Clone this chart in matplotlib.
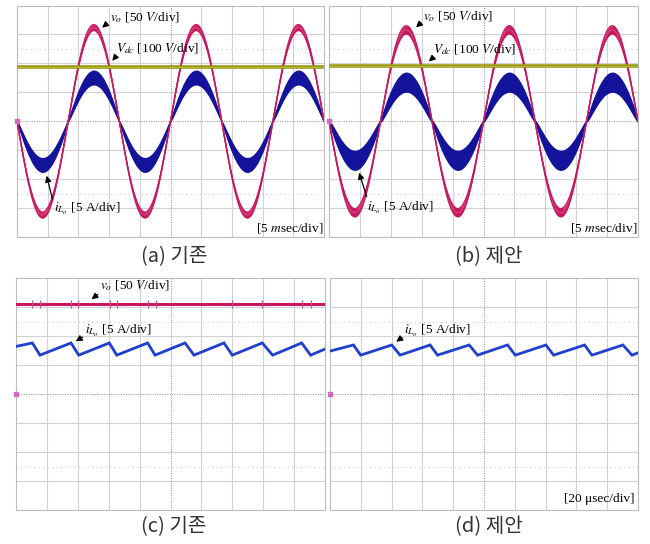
import numpy as np
import matplotlib.pyplot as plt

plt.rcParams['mathtext.fontset'] = 'stix'

# --- values read from the scope shots ---
# (a),(b): 5 ms/div, vo 50 V/div, Vdc 100 V/div, iLo 5 A/div
f_line = 60.0                     # Hz
vo_amp = [162.0, 158.0]           # V peak, (a) conventional, (b) proposed
vo_ripple = [5.0, 7.0]            # V half band at peak
io_amp = [7.55, 6.75]             # A peak
io_ripple = [1.3, 1.75]           # A half band at peak
vdc_level = [189.0, 190.0]        # V

# (c),(d): 20 us/div, zoom on the switching ripple
vo_dc_c = 155.0                   # V
spike_times_c = [10.6, 15.5, 35.6, 40.3, 60.8, 65.2, 85.6, 90.4,
                 140.0, 159.4, 184.9, 190.7]
saw_peak_t_c = [10.6, 35.6, 60.4, 85.2, 109.4, 134.6, 159.4, 184.9]
saw_trough_t_c = [15.5, 40.6, 65.2, 90.0, 115.2, 140.0, 166.1, 190.7]
saw_hi_c, saw_lo_c = 8.8, 6.7     # A
saw_start_c, saw_end_c = 8.2, 7.75

saw_peak_t_d = [15.2, 40.1, 65.0, 90.4, 115.3, 140.2, 165.3, 190.2]
saw_trough_t_d = [19.9, 45.5, 69.8, 95.8, 120.3, 145.2, 170.1, 196.1]
saw_hi_d, saw_lo_d = 8.45, 6.7
saw_start_d, saw_end_d = 7.4, 7.1

W, H = 650, 544
PINK = "#c8175e"
BLUE = "#13139c"
SAW = "#1f3fcf"
OLIVE = "#9a9a12"

fig = plt.figure(figsize=(W / 100, H / 100), dpi=100)


def fx(px, py):
    return (px / W, 1 - py / H)


def panel(l, t, r, b):
    ax = fig.add_axes([l / W, 1 - b / H, (r - l) / W, (b - t) / H])
    ax.set_xlim(0, 10)
    ax.set_ylim(-4, 4)
    ax.set_xticks([])
    ax.set_yticks([])
    for s in ax.spines.values():
        s.set_color("#bdbdbd")
        s.set_linewidth(0.8)
    for i in range(1, 10):
        if i != 5:
            ax.axvline(i, color="#d2d2d2", lw=0.8, zorder=0)
    for j in [-3, -2, -1, 1, 2, 3]:
        ax.axhline(j, color="#d2d2d2", lw=0.8, zorder=0)
    for j in [-2.5, 2.5]:
        ax.axhline(j, color="#cccccc", lw=0.8, ls=(0, (1, 3)), zorder=0)
    ax.axhline(0, color="#8c8c8c", lw=0.7, ls=(0, (1, 1.5)), zorder=0)
    ax.axvline(5, color="#8c8c8c", lw=0.7, ls=(0, (1, 1.5)), zorder=0)
    ax.plot([0], [0], marker="s", ms=2.5, color="#d06ac0", clip_on=False, zorder=5)
    return ax


def sine_panel(ax, k):
    t = np.linspace(0, 50, 3000)  # ms
    s = -np.sin(2 * np.pi * f_line * t / 1000)
    x = t / 5.0
    ic = io_amp[k] * s / 5.0
    ih = io_ripple[k] * np.abs(s) ** 0.45 / 5.0
    ax.fill_between(x, ic - ih, ic + ih, color=BLUE, lw=0, zorder=2)
    ax.plot(x, ic, color=BLUE, lw=1.0, zorder=2)
    vc = vo_amp[k] * s / 50.0
    vh = vo_ripple[k] * np.abs(s) ** 2 / 50.0
    ax.fill_between(x, vc - vh, vc + vh, color=PINK, lw=0, zorder=3)
    ax.plot(x, vc, color="#d0487e", lw=0.9, zorder=3)
    ax.plot(x, vc + vh, color=PINK, lw=1.0, zorder=3)
    ax.plot(x, vc - vh, color=PINK, lw=1.0, zorder=3)
    ax.axhline(vdc_level[k] / 100.0, color=OLIVE, lw=2.6, zorder=4)
    ax.axhline(vdc_level[k] / 100.0, color="#b4b43a", lw=0.8, zorder=4)


def saw(ax, peaks, troughs, hi, lo, start, end):
    tt = [0.0]
    vv = [start]
    for p, q in zip(peaks, troughs):
        tt += [p, q]
        vv += [hi, lo]
    tt.append(200.0)
    vv.append(end)
    ax.plot(np.array(tt) / 20.0, np.array(vv) / 5.0, color=SAW, lw=2.0,
            solid_joinstyle="miter", zorder=3)


ax_a = panel(17, 5.5, 324, 237)
sine_panel(ax_a, 0)
ax_b = panel(329, 5.5, 638, 237)
sine_panel(ax_b, 1)

ax_c = panel(16, 278, 325, 510)
vy = vo_dc_c / 50.0
ax_c.axhline(vy, color=PINK, lw=2.2, zorder=3)
ax_c.vlines(np.array(spike_times_c) / 20.0, vy - 0.14, vy + 0.14,
            color="#c85080", lw=0.8, zorder=3)
saw(ax_c, saw_peak_t_c, saw_trough_t_c, saw_hi_c, saw_lo_c, saw_start_c, saw_end_c)

ax_d = panel(330, 278, 638, 510)
saw(ax_d, saw_peak_t_d, saw_trough_t_d, saw_hi_d, saw_lo_d, saw_start_d, saw_end_d)

# --- annotations ---
afs = 9.6
serif = "Liberation Serif"


def note(txt, tx, ty, tail, tip, ha="left"):
    fig.text(*fx(tx, ty), txt, fontsize=afs, family=serif, ha=ha, va="center")
    if tail is not None:
        fig.add_artist(plt.matplotlib.patches.FancyArrowPatch(
            fx(*tail), fx(*tip), transform=fig.transFigure,
            arrowstyle="-|>", mutation_scale=9, color="k", lw=0.9))


note(r"$v_o$ [50 $V$/div]", 110, 17.5, (109, 22), (100, 29.5))
note(r"$V_{dc}$ [100 $V$/div]", 116, 49, (117, 55), (110.5, 63))
note(r"$i_{L_o}$ [5 A/div]", 54, 209, (53, 201.5), (46, 173))
note(r"[5 $m$sec/div]", 323, 228, None, None, ha="right")

note(r"$v_o$ [50 $V$/div]", 423, 16.7, (423, 21), (414, 29.3))
note(r"$V_{dc}$ [100 $V$/div]", 433, 49.3, (435, 56), (426.7, 63.3))
note(r"$i_{L_o}$ [5 A/div]", 367, 208, (367.5, 199.3), (358.3, 170))
note(r"[5 $m$sec/div]", 637, 228, None, None, ha="right")

note(r"$v_o$ [50 $V$/div]", 100, 286, (100, 292.7), (89.3, 301))
note(r"$i_{L_o}$ [5 A/div]", 85, 330.5, (85, 335.7), (73.3, 342.7))

note(r"$i_{L_o}$ [5 A/div]", 404, 330.5, (404.3, 336), (394, 343.3))
note("[20 \u03bcsec/div]", 635, 499, None, None, ha="right")

# --- captions ---
cap = dict(fontsize=14.5, family=["Noto Sans CJK KR", "DejaVu Sans"],
           ha="center", va="center", color="#333333", fontweight="light")
fig.text(*fx(174, 257), "(a) 기존", **cap)
fig.text(*fx(489, 257), "(b) 제안", **cap)
fig.text(*fx(174, 527), "(c) 기존", **cap)
fig.text(*fx(489, 527), "(d) 제안", **cap)

fig.savefig("out.png", dpi=100, facecolor="white")
